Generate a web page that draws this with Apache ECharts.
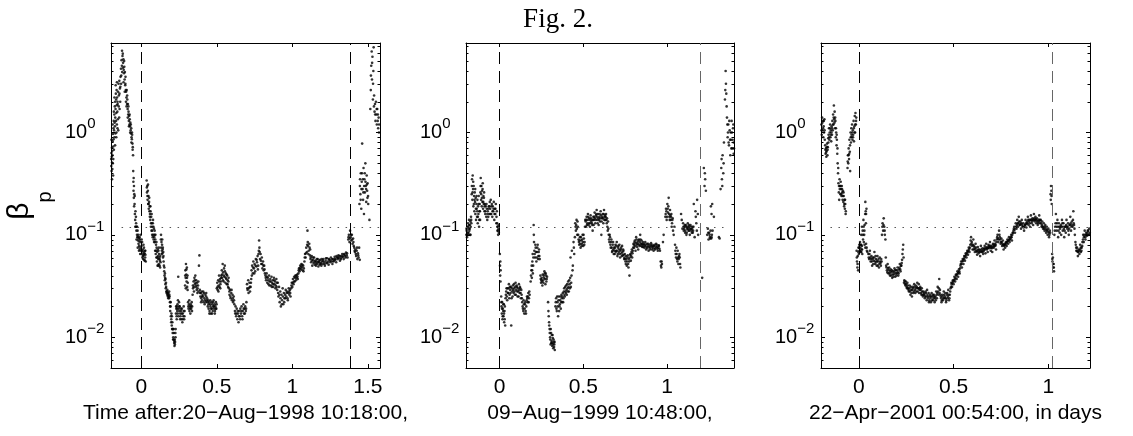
<!DOCTYPE html>
<html>
<head>
<meta charset="utf-8">
<script src="https://cdn.jsdelivr.net/npm/echarts@6/dist/echarts.min.js"></script>
<style>
html,body{margin:0;padding:0;background:#fff}
#main{width:1133px;height:436px}
</style>
</head>
<body>
<div id="main"></div>
<script>
// tick values
var xTicks = [0, 0.5, 1, 1.5];
var minorYTicks = [0.005, 0.006, 0.007, 0.008, 0.009,
  0.02, 0.03, 0.04, 0.05, 0.06, 0.07, 0.08, 0.09,
  0.2, 0.3, 0.4, 0.5, 0.6, 0.7, 0.8, 0.9,
  2, 3, 4, 5, 6, 7];
var yMin = 0.005, yMax = 7.5;
var xMin = [-0.2, -0.2, -0.2];
var xMax = [1.58, 1.4, 1.22];
// event boundaries (days) and beta threshold
var eventStart = [0, 0, 0];
var eventEnd = [1.38, 1.2, 1.02];
var threshold = 0.12;
var thresholdFrom = [-0.13, -0.2, -0.15];
var thresholdTo = [1.58, 1.34, 1.22];
var dateLabels = ['Time after:20\u2212Aug\u22121998 10:18:00,', '09\u2212Aug\u22121999 10:48:00,', '22\u2212Apr\u22122001 00:54:00, in days'];

// beta_p, 20-Aug-1998
var beta1998 = [
[-0.199,0.55],[-0.198,0.47],[-0.197,0.63],[-0.196,0.42],[-0.195,0.58],[-0.194,0.71],[-0.193,0.51],[-0.192,0.66],[-0.191,0.44],[-0.19,0.6],[-0.189,0.82],[-0.188,0.5],[-0.187,0.97],[-0.186,0.38],[-0.185,0.73],[-0.184,1.1],[-0.183,0.86],[-0.182,1.3],[-0.181,0.68],[-0.18,1.05],
[-0.178,1.5],[-0.177,0.9],[-0.176,1.25],[-0.175,1.8],[-0.174,1.15],[-0.173,2.0],[-0.172,1.4],[-0.171,0.98],[-0.17,1.7],[-0.168,2.4],[-0.167,1.3],[-0.166,2.1],[-0.165,1.55],[-0.164,1.0],[-0.163,2.6],[-0.162,1.85],[-0.161,1.2],[-0.16,2.2],[-0.158,1.6],[-0.157,1.1],[-0.156,1.9],[-0.155,1.35],[-0.153,2.5],[-0.152,1.05],
[-0.15,3.0],[-0.148,2.3],[-0.146,1.4],[-0.145,3.2],[-0.143,1.7],[-0.141,2.7],[-0.139,2.0],[-0.137,3.5],
[-0.134,4.2],[-0.132,3.6],[-0.13,5.1],[-0.128,4.5],[-0.126,3.9],[-0.124,5.6],[-0.122,5.9],[-0.12,4.8],[-0.118,5.2],[-0.116,4.1],
[-0.114,3.8],[-0.112,4.4],[-0.11,3.3],[-0.108,3.9],[-0.106,2.9],[-0.104,3.5],[-0.102,2.6],
[-0.1,2.5],[-0.098,2.2],[-0.096,2.6],[-0.094,1.9],[-0.092,2.1],[-0.09,1.7],[-0.088,1.9],[-0.086,1.5],
[-0.084,1.6],[-0.082,1.3],[-0.08,1.45],[-0.078,1.2],[-0.076,1.35],[-0.074,1.15],[-0.072,1.25],
[-0.07,1.05],[-0.068,0.98],[-0.066,1.1],[-0.064,0.9],[-0.062,0.86],[-0.06,0.95],[-0.058,0.78],[-0.056,0.72],
[-0.054,0.6],[-0.053,0.42],[-0.052,0.33],[-0.051,0.27],[-0.05,0.36],[-0.049,0.23],[-0.048,0.3],[-0.046,0.25],
[-0.044,0.2],[-0.042,0.16],[-0.04,0.14],[-0.038,0.17],[-0.036,0.12],[-0.034,0.13],[-0.032,0.11],[-0.03,0.12],
[-0.028,0.1],[-0.026,0.095],[-0.024,0.11],[-0.022,0.088],[-0.02,0.095],[-0.018,0.082],[-0.016,0.092],[-0.014,0.078],[-0.012,0.086],[-0.01,0.072],[-0.008,0.09],[-0.006,0.075],[-0.004,0.085],[-0.002,0.07],
[0.002,0.078],[0.004,0.065],[0.006,0.085],[0.008,0.06],[0.01,0.072],[0.012,0.058],[0.014,0.068],[0.016,0.063],[0.018,0.075],[0.02,0.057],[0.022,0.066],[0.024,0.07],[0.026,0.06],[0.028,0.064],[0.03,0.055],
[0.036,0.34],[0.038,0.26],[0.04,0.3],[0.042,0.22],[0.044,0.27],[0.046,0.2],[0.048,0.24],[0.05,0.18],[0.052,0.21],[0.054,0.17],[0.056,0.19],[0.058,0.16],
[0.06,0.14],[0.062,0.17],[0.064,0.12],[0.066,0.15],[0.068,0.11],[0.07,0.13],[0.072,0.1],[0.074,0.12],[0.076,0.095],[0.078,0.14],[0.08,0.1],[0.082,0.09],[0.084,0.115],[0.086,0.095],[0.088,0.1],
[0.09,0.085],[0.092,0.07],[0.094,0.1],[0.096,0.065],[0.098,0.08],[0.1,0.06],[0.102,0.075],[0.104,0.055],[0.106,0.068],[0.108,0.05],[0.11,0.062],[0.112,0.058],[0.114,0.07],[0.116,0.052],[0.118,0.065],[0.12,0.06],[0.122,0.05],[0.124,0.056],[0.126,0.062],[0.128,0.054],
[0.13,0.09],[0.132,0.075],[0.134,0.085],[0.136,0.07],[0.138,0.08],[0.14,0.066],[0.142,0.072],[0.144,0.06],[0.146,0.068],[0.148,0.055],
[0.15,0.05],[0.152,0.044],[0.154,0.04],[0.156,0.036],[0.158,0.038],[0.16,0.033],[0.162,0.03],[0.164,0.034],[0.166,0.028],[0.168,0.027],
[0.17,0.028],[0.172,0.026],[0.174,0.027],[0.176,0.025],[0.178,0.026],[0.18,0.027],[0.182,0.025],[0.184,0.024],[0.186,0.026],[0.188,0.025],
[0.19,0.022],[0.192,0.018],[0.194,0.02],[0.196,0.016],[0.198,0.014],[0.2,0.017],[0.202,0.013],[0.204,0.012],[0.206,0.014],[0.208,0.011],
[0.21,0.012],[0.212,0.01],[0.214,0.0095],[0.216,0.011],[0.218,0.0088],[0.22,0.0082],[0.222,0.0095],[0.224,0.009],[0.226,0.011],[0.228,0.012],
[0.23,0.017],[0.232,0.019],[0.234,0.016],[0.236,0.02],[0.238,0.018],[0.24,0.021],[0.242,0.017],[0.245,0.039],[0.248,0.019],[0.25,0.022],[0.252,0.018],[0.255,0.02],[0.258,0.017],
[0.26,0.016],[0.263,0.018],[0.266,0.015],[0.269,0.019],[0.272,0.014],[0.275,0.017],[0.278,0.016],[0.281,0.02],[0.284,0.015],[0.287,0.018],
[0.29,0.032],[0.292,0.045],[0.294,0.038],[0.296,0.052],[0.298,0.041],[0.3,0.035],[0.302,0.048],[0.304,0.031],[0.306,0.04],[0.308,0.034],
[0.31,0.022],[0.313,0.019],[0.316,0.021],[0.319,0.018],[0.322,0.02],[0.325,0.017],[0.328,0.021],[0.331,0.019],[0.334,0.022],[0.337,0.02],
[0.34,0.026],[0.343,0.03],[0.346,0.035],[0.349,0.028],[0.352,0.038],[0.355,0.033],[0.358,0.04],[0.361,0.031],[0.364,0.036],[0.367,0.029],[0.37,0.034],[0.373,0.03],[0.376,0.032],[0.379,0.028],
[0.382,0.05],[0.385,0.063],
[0.388,0.029],[0.391,0.025],[0.394,0.027],[0.397,0.024],[0.4,0.028],[0.403,0.023],[0.406,0.026],[0.409,0.025],[0.412,0.022],[0.415,0.027],[0.418,0.024],[0.421,0.023],[0.424,0.026],[0.427,0.022],[0.43,0.025],[0.433,0.023],[0.436,0.024],
[0.44,0.02],[0.443,0.023],[0.446,0.019],[0.449,0.022],[0.452,0.018],[0.455,0.021],[0.458,0.02],[0.461,0.017],[0.464,0.022],[0.467,0.019],[0.47,0.021],[0.473,0.018],[0.476,0.02],[0.479,0.023],[0.482,0.019],[0.485,0.021],[0.488,0.018],[0.491,0.02],[0.494,0.022],[0.497,0.019],
[0.5,0.03],[0.503,0.034],[0.506,0.029],[0.509,0.036],[0.512,0.032],[0.515,0.04],[0.518,0.031],[0.521,0.037],[0.524,0.033],[0.527,0.035],
[0.53,0.04],[0.533,0.045],[0.536,0.038],[0.539,0.052],[0.542,0.043],[0.545,0.035],[0.548,0.047],[0.551,0.039],[0.554,0.044],[0.557,0.034],[0.56,0.042],[0.563,0.037],[0.566,0.033],[0.569,0.04],[0.572,0.036],[0.575,0.031],[0.578,0.038],
[0.58,0.03],[0.584,0.026],[0.588,0.029],[0.592,0.024],[0.596,0.027],[0.6,0.023],[0.604,0.026],[0.608,0.022],[0.612,0.025],[0.616,0.021],
[0.62,0.018],[0.624,0.02],[0.628,0.016],[0.632,0.019],[0.636,0.015],[0.64,0.017],[0.644,0.014],[0.648,0.018],[0.652,0.016],[0.656,0.019],[0.66,0.017],[0.664,0.02],[0.668,0.016],[0.672,0.018],[0.676,0.021],[0.68,0.017],[0.684,0.019],[0.688,0.02],[0.692,0.018],[0.696,0.022],
[0.7,0.033],[0.704,0.029],[0.708,0.036],[0.712,0.03],[0.716,0.034],[0.72,0.028],[0.724,0.031],[0.728,0.037],
[0.73,0.045],[0.734,0.05],[0.738,0.042],[0.742,0.055],[0.746,0.047],[0.75,0.052],[0.754,0.044],[0.758,0.058],[0.762,0.049],[0.766,0.054],[0.77,0.062],[0.774,0.05],[0.778,0.07],[0.78,0.088],[0.782,0.075],[0.786,0.058],[0.79,0.065],[0.794,0.052],[0.798,0.06],[0.802,0.047],[0.806,0.055],[0.81,0.045],[0.814,0.05],[0.818,0.042],
[0.822,0.04],[0.826,0.036],[0.83,0.042],[0.834,0.034],[0.838,0.038],[0.842,0.033],[0.846,0.04],[0.85,0.035],[0.854,0.037],[0.858,0.032],[0.862,0.039],[0.866,0.034],[0.87,0.036],[0.874,0.031],[0.878,0.038],[0.882,0.033],[0.886,0.035],[0.89,0.032],[0.894,0.037],[0.898,0.034],
[0.9,0.029],[0.904,0.034],[0.908,0.025],[0.912,0.031],[0.916,0.022],[0.92,0.028],[0.924,0.02],[0.928,0.026],[0.932,0.023],[0.936,0.03],[0.94,0.021],[0.944,0.027],[0.948,0.024],
[0.952,0.026],[0.956,0.029],[0.96,0.025],[0.964,0.028],[0.968,0.024],[0.972,0.027],[0.976,0.03],[0.98,0.026],[0.984,0.029],[0.988,0.025],
[0.992,0.03],[0.996,0.034],[1.0,0.031],[1.004,0.037],[1.008,0.033],[1.012,0.039],[1.016,0.035],[1.02,0.04],[1.024,0.036],[1.028,0.038],[1.032,0.041],[1.036,0.037],
[1.04,0.042],[1.044,0.047],[1.048,0.044],[1.052,0.05],[1.056,0.046],[1.06,0.052],[1.064,0.048],[1.068,0.045],[1.072,0.05],[1.076,0.047],
[1.08,0.055],[1.084,0.065],[1.088,0.06],[1.092,0.075],[1.096,0.068],[1.1,0.11],[1.102,0.085],[1.104,0.078],[1.108,0.07],[1.112,0.082],[1.116,0.063],[1.118,0.072],
[1.12,0.058],[1.124,0.054],[1.128,0.062],[1.132,0.05],[1.136,0.057],[1.14,0.053],[1.144,0.06],[1.148,0.051],[1.152,0.056],[1.156,0.05],[1.16,0.055],[1.164,0.052],[1.168,0.058],[1.172,0.049],[1.176,0.054],[1.18,0.051],[1.184,0.057],[1.188,0.053],[1.192,0.05],[1.196,0.055],
[1.2,0.052],[1.205,0.058],[1.21,0.054],[1.215,0.05],[1.22,0.056],[1.225,0.053],[1.23,0.059],[1.235,0.055],[1.24,0.051],[1.245,0.057],[1.25,0.054],[1.255,0.06],[1.26,0.055],[1.265,0.052],[1.27,0.058],[1.275,0.056],[1.28,0.061],[1.285,0.057],[1.29,0.054],[1.295,0.06],[1.3,0.058],[1.305,0.063],[1.31,0.059],[1.315,0.056],[1.32,0.062],[1.325,0.06],[1.33,0.065],[1.335,0.061],[1.34,0.058],[1.345,0.064],[1.35,0.062],[1.355,0.067],[1.36,0.063],[1.365,0.06],
[1.37,0.09],[1.374,0.1],[1.378,0.085],[1.382,0.11],[1.386,0.095],[1.39,0.088],[1.394,0.1],[1.398,0.082],[1.402,0.092],[1.406,0.078],
[1.41,0.075],[1.414,0.068],[1.418,0.072],[1.422,0.062],[1.426,0.07],[1.43,0.058],[1.434,0.066],[1.438,0.06],[1.442,0.075],[1.446,0.057],
[1.444,0.2],[1.447,0.3],[1.45,0.25],[1.453,0.4],[1.456,0.18],[1.459,0.33],[1.462,0.78],[1.465,0.28],[1.468,0.22],[1.471,0.45],[1.474,0.16],[1.477,0.35],[1.48,0.26],[1.483,0.5],[1.486,0.3],[1.489,0.21],[1.492,0.38],[1.495,0.27],[1.498,0.32],[1.501,0.24],
[1.51,0.14],
[1.516,1.7],[1.519,2.6],[1.522,4.5],[1.525,6.2],[1.527,3.3],[1.53,5.5],[1.533,2.1],[1.536,4.0],[1.538,6.8],
[1.541,2.3],[1.544,1.6],[1.547,1.9],[1.55,1.3],[1.553,2.0],[1.556,1.5],[1.559,1.2],[1.562,1.7],[1.565,1.3],[1.568,1.1],[1.571,1.4],[1.574,1.2]
];
var beta1998More = [
[-0.197,0.85],[-0.193,0.35],[-0.189,1.2],[-0.185,0.55],[-0.181,1.6],[-0.177,2.2],[-0.173,0.75],[-0.169,2.9],[-0.165,0.9],[-0.161,3.1],[-0.157,2.0],[-0.149,1.8],[-0.144,2.4],[-0.138,2.8],[-0.133,3.0],[-0.127,6.3],[-0.121,4.3],[-0.117,3.1],[-0.113,5.0],[-0.109,2.5],[-0.105,3.0],[-0.101,2.0],[-0.097,1.8],[-0.093,2.3],[-0.089,1.4],[-0.085,1.8],[-0.081,1.15],[-0.077,1.5],[-0.073,1.0],[-0.069,1.2],[-0.065,0.8],[-0.061,1.0],[-0.057,0.68],[-0.047,0.19],[-0.043,0.24],[-0.039,0.12],[-0.035,0.15],[-0.031,0.09],[-0.027,0.12],[-0.023,0.075],[-0.019,0.1],[-0.015,0.07],[-0.011,0.095],[-0.007,0.065],[-0.003,0.1],
[0.003,0.09],[0.007,0.07],[0.011,0.062],[0.015,0.08],[0.019,0.065],[0.023,0.056],[0.027,0.07],[0.037,0.29],[0.041,0.24],[0.045,0.31],[0.049,0.2],[0.053,0.23],[0.057,0.15],[0.061,0.19],[0.065,0.13],[0.069,0.16],[0.073,0.11],[0.077,0.13],[0.081,0.12],[0.085,0.085],[0.089,0.11],[0.093,0.09],[0.097,0.07],[0.101,0.085],[0.105,0.06],[0.109,0.072],[0.113,0.05],[0.117,0.075],[0.121,0.058],[0.125,0.048],[0.131,0.1],[0.135,0.065],[0.139,0.09],[0.143,0.075],[0.147,0.062],[0.153,0.048],[0.157,0.042],[0.161,0.037],[0.165,0.031],[0.173,0.029],[0.179,0.024],[0.185,0.028],[0.191,0.02],[0.195,0.022],[0.199,0.015],[0.203,0.016],[0.207,0.012],[0.211,0.0095],[0.215,0.012],[0.219,0.0092],[0.223,0.0085],[0.227,0.01],[0.231,0.02],[0.235,0.015],[0.239,0.019],[0.243,0.023],[0.247,0.016],[0.251,0.02],[0.257,0.015],[0.262,0.019],[0.268,0.017],[0.274,0.015],[0.28,0.018],[0.286,0.016],[0.291,0.04],[0.295,0.03],[0.299,0.046],[0.303,0.038],[0.307,0.029],[0.312,0.02],[0.318,0.023],[0.324,0.019],[0.33,0.02],[0.336,0.018],[0.342,0.032],[0.348,0.031],[0.354,0.036],[0.36,0.034],[0.366,0.032],[0.372,0.027],[0.378,0.035],[0.39,0.027],[0.396,0.022],[0.402,0.025],[0.41,0.028],[0.42,0.021],[0.43,0.027],[0.438,0.022],[0.445,0.021],[0.451,0.017],[0.457,0.023],[0.463,0.019],[0.469,0.017],[0.475,0.022],[0.481,0.02],[0.487,0.017],[0.493,0.019],[0.499,0.021],[0.505,0.031],[0.511,0.028],[0.517,0.035],[0.523,0.03],[0.529,0.038],[0.535,0.041],[0.541,0.036],[0.547,0.04],[0.553,0.05],[0.559,0.038],[0.565,0.041],[0.571,0.033],[0.577,0.035],[0.583,0.028],[0.59,0.025],[0.598,0.029],[0.606,0.024],[0.614,0.023],[0.622,0.017],[0.63,0.017],[0.638,0.018],[0.646,0.016],[0.654,0.015],[0.662,0.018],[0.67,0.015],[0.678,0.019],[0.686,0.017],[0.694,0.019],[0.702,0.03],[0.71,0.027],[0.718,0.031],[0.726,0.034],[0.732,0.04],[0.74,0.048],[0.748,0.042],[0.756,0.05],[0.764,0.057],[0.772,0.046],[0.776,0.065],[0.784,0.068],[0.792,0.056],[0.8,0.052],[0.808,0.05],[0.816,0.046],[0.824,0.038],[0.832,0.039],[0.84,0.036],[0.848,0.032],[0.856,0.035],[0.864,0.031],[0.872,0.033],[0.88,0.036],[0.888,0.03],[0.896,0.031],[0.906,0.027],[0.914,0.026],[0.922,0.024],[0.93,0.021],[0.938,0.025],[0.946,0.022],[0.954,0.024],[0.962,0.027],[0.97,0.023],[0.978,0.028],[0.986,0.027],[0.994,0.032],[1.002,0.034],[1.01,0.035],[1.018,0.038],[1.026,0.04],[1.034,0.039],[1.042,0.045],[1.05,0.047],[1.058,0.049],[1.066,0.051],[1.074,0.044],[1.082,0.06],[1.09,0.066],[1.098,0.08],[1.106,0.065],[1.114,0.075],[1.122,0.06],[1.13,0.056],[1.138,0.06],[1.146,0.055],[1.154,0.053],[1.162,0.058],[1.17,0.054],[1.178,0.056],[1.186,0.052],[1.194,0.058],[1.202,0.056],[1.212,0.052],[1.222,0.059],[1.232,0.053],[1.242,0.058],[1.252,0.056],[1.262,0.058],[1.272,0.055],[1.282,0.058],[1.292,0.062],[1.302,0.06],[1.312,0.062],[1.322,0.058],[1.332,0.062],[1.342,0.065],[1.352,0.06],[1.362,0.066],[1.372,0.095],[1.38,0.092],[1.388,0.1],[1.396,0.09],[1.404,0.085],[1.412,0.07],[1.42,0.065],[1.428,0.075],[1.436,0.063],[1.448,0.35],[1.452,0.22],[1.457,0.28],[1.461,0.4],[1.466,0.35],[1.47,0.26],[1.475,0.3],[1.479,0.4],[1.484,0.33],[1.488,0.28],[1.493,0.31],[1.497,0.23],[1.502,0.2],[1.52,3.6],[1.528,4.8],[1.534,3.0],[1.54,1.8],[1.548,1.5],[1.558,1.7],[1.566,1.5],[1.573,1.0]
];

// beta_p, 09-Aug-1999
var beta1999 = [
[-0.198,0.1],[-0.196,0.11],[-0.194,0.095],[-0.192,0.12],[-0.19,0.105],[-0.188,0.13],[-0.186,0.1],[-0.184,0.115],[-0.182,0.14],[-0.18,0.11],[-0.178,0.125],[-0.176,0.1],[-0.174,0.135],[-0.172,0.12],[-0.17,0.15],[-0.168,0.13],
[-0.166,0.25],[-0.164,0.35],[-0.162,0.22],[-0.16,0.38],[-0.158,0.28],[-0.156,0.19],[-0.154,0.3],[-0.152,0.24],[-0.15,0.17],[-0.148,0.26],[-0.146,0.21],[-0.144,0.16],[-0.142,0.23],[-0.14,0.14],[-0.138,0.2],[-0.136,0.18],
[-0.134,0.15],[-0.132,0.22],[-0.13,0.13],[-0.128,0.19],[-0.126,0.16],[-0.124,0.24],[-0.122,0.12],[-0.12,0.17],[-0.118,0.2],[-0.116,0.14],
[-0.114,0.26],[-0.112,0.36],[-0.11,0.22],[-0.108,0.3],[-0.106,0.19],[-0.104,0.27],[-0.102,0.21],[-0.1,0.32],[-0.098,0.18],[-0.096,0.24],[-0.094,0.2],[-0.092,0.26],[-0.09,0.17],
[-0.088,0.2],[-0.085,0.16],[-0.082,0.19],[-0.079,0.15],[-0.076,0.18],[-0.073,0.14],[-0.07,0.17],[-0.067,0.15],[-0.064,0.19],[-0.061,0.16],[-0.058,0.21],
[-0.055,0.18],[-0.052,0.22],[-0.049,0.16],[-0.046,0.2],[-0.043,0.15],[-0.04,0.19],[-0.037,0.17],[-0.034,0.21],[-0.031,0.14],[-0.028,0.18],[-0.025,0.16],[-0.022,0.2],[-0.019,0.13],[-0.016,0.17],
[-0.014,0.13],[-0.012,0.11],[-0.01,0.12],[-0.008,0.1],[-0.006,0.115],[-0.004,0.105],
[0.002,0.065],[0.003,0.05],[0.004,0.04],[0.005,0.055],[0.006,0.035],[0.007,0.045],
[0.01,0.025],[0.012,0.02],[0.014,0.017],[0.016,0.022],[0.018,0.015],[0.02,0.019],[0.022,0.018],[0.024,0.016],[0.026,0.021],[0.028,0.014],[0.03,0.018],[0.032,0.02],[0.034,0.013],
[0.036,0.024],[0.04,0.028],[0.044,0.025],[0.048,0.03],[0.052,0.027],[0.056,0.033],[0.06,0.026],[0.064,0.029],[0.068,0.031],[0.07,0.013],[0.072,0.024],[0.076,0.028],[0.08,0.032],[0.084,0.027],
[0.088,0.03],[0.092,0.026],[0.096,0.034],[0.1,0.029],[0.104,0.031],[0.108,0.025],[0.112,0.028],[0.116,0.033],[0.12,0.027],[0.124,0.03],[0.128,0.024],[0.132,0.026],
[0.136,0.022],[0.14,0.019],[0.144,0.023],[0.148,0.017],[0.152,0.021],[0.156,0.018],[0.16,0.02],[0.164,0.025],[0.168,0.022],[0.172,0.027],[0.176,0.024],[0.18,0.026],
[0.186,0.035],[0.19,0.045],[0.193,0.038],[0.196,0.055],[0.199,0.042],[0.202,0.06],[0.204,0.125],[0.206,0.085],
[0.208,0.07],[0.212,0.06],[0.216,0.075],[0.22,0.055],[0.224,0.068],[0.228,0.08],[0.232,0.062],[0.236,0.072],[0.24,0.058],
[0.244,0.04],[0.248,0.034],[0.252,0.038],[0.256,0.032],[0.26,0.036],[0.264,0.04],[0.268,0.044],[0.272,0.037],[0.276,0.042],[0.28,0.035],[0.284,0.039],
[0.29,0.022],[0.294,0.016],[0.297,0.013],[0.3,0.011],[0.303,0.0095],[0.306,0.012],[0.309,0.0088],[0.312,0.0105],[0.315,0.0082],[0.318,0.0098],[0.321,0.0078],[0.324,0.009],[0.327,0.0085],[0.33,0.0075],
[0.334,0.02],[0.338,0.024],[0.342,0.018],[0.346,0.022],[0.35,0.016],[0.354,0.025],[0.358,0.02],[0.362,0.023],[0.366,0.019],[0.37,0.026],
[0.374,0.022],[0.378,0.027],[0.382,0.024],[0.386,0.03],[0.39,0.025],[0.394,0.028],[0.398,0.032],[0.402,0.026],[0.406,0.03],[0.41,0.035],[0.414,0.028],[0.418,0.033],[0.422,0.038],[0.426,0.031],[0.43,0.04],
[0.424,0.06],[0.432,0.07],[0.438,0.05],[0.442,0.085],[0.446,0.065],
[0.452,0.13],[0.456,0.11],[0.46,0.14],[0.464,0.1],[0.468,0.12],
[0.472,0.09],[0.476,0.08],[0.48,0.095],[0.484,0.075],[0.488,0.088],[0.492,0.082],[0.496,0.1],[0.5,0.078],[0.504,0.092],[0.508,0.085],
[0.512,0.14],[0.516,0.12],[0.52,0.15],[0.524,0.13],[0.528,0.16],[0.532,0.125],[0.536,0.145],[0.54,0.12],[0.544,0.155],[0.548,0.135],[0.552,0.13],[0.556,0.11],[0.56,0.15],
[0.564,0.14],[0.568,0.165],[0.572,0.13],[0.576,0.155],[0.58,0.175],[0.584,0.14],[0.588,0.16],[0.592,0.125],[0.596,0.15],[0.6,0.135],[0.604,0.17],[0.608,0.1],[0.612,0.145],[0.616,0.16],[0.62,0.13],[0.624,0.175],[0.628,0.15],[0.632,0.14],[0.636,0.16],[0.64,0.13],[0.644,0.12],[0.648,0.135],
[0.652,0.1],[0.656,0.085],[0.66,0.095],[0.664,0.075],[0.668,0.09],[0.672,0.068],[0.676,0.08],[0.68,0.072],
[0.684,0.075],[0.688,0.065],[0.692,0.08],[0.696,0.07],[0.7,0.085],[0.704,0.062],[0.708,0.075],[0.712,0.068],[0.716,0.08],[0.72,0.06],[0.724,0.072],[0.728,0.066],[0.732,0.078],[0.736,0.063],[0.74,0.07],[0.744,0.058],[0.748,0.065],
[0.752,0.055],[0.756,0.062],[0.76,0.05],[0.764,0.06],[0.768,0.052],[0.772,0.058],[0.776,0.04],[0.78,0.064],[0.784,0.056],[0.788,0.068],[0.792,0.06],[0.796,0.07],
[0.8,0.082],[0.804,0.075],[0.808,0.088],[0.812,0.07],[0.816,0.095],[0.82,0.08],[0.824,0.085],[0.828,0.072],[0.832,0.09],[0.836,0.078],[0.84,0.1],[0.844,0.082],[0.848,0.088],[0.852,0.076],[0.856,0.085],
[0.86,0.08],[0.865,0.075],[0.87,0.085],[0.875,0.072],[0.88,0.082],[0.885,0.078],[0.89,0.07],[0.895,0.08],[0.9,0.075],[0.905,0.083],[0.91,0.072],[0.915,0.078],[0.92,0.07],[0.925,0.08],[0.93,0.074],[0.935,0.082],[0.94,0.076],[0.945,0.07],[0.95,0.079],[0.955,0.073],
[0.962,0.055],[0.966,0.048],[0.97,0.052],[0.976,0.085],[0.98,0.1],
[0.99,0.15],[0.994,0.18],[0.998,0.14],[1.002,0.2],[1.006,0.165],[1.01,0.23],[1.014,0.15],[1.018,0.175],[1.022,0.14],[1.026,0.16],[1.03,0.13],[1.034,0.145],
[1.036,0.11],[1.04,0.1],[1.044,0.12],
[1.048,0.08],[1.052,0.065],[1.056,0.075],[1.06,0.058],[1.064,0.07],[1.068,0.052],[1.072,0.062],[1.076,0.06],[1.08,0.048],
[1.084,0.16],[1.088,0.14],[1.092,0.115],
[1.096,0.13],[1.1,0.11],[1.104,0.12],[1.108,0.105],[1.112,0.125],[1.116,0.1],[1.12,0.115],[1.124,0.13],[1.128,0.11],[1.132,0.12],[1.136,0.1],[1.14,0.125],[1.144,0.115],[1.148,0.105],[1.152,0.12],[1.156,0.11],
[1.16,0.2],[1.165,0.095],[1.17,0.17],[1.175,0.13],[1.18,0.22],[1.186,0.1],
[1.21,0.038],[1.22,0.45],[1.224,0.3],[1.228,0.35],[1.232,0.27],
[1.24,0.1],[1.244,0.115],[1.248,0.09],[1.252,0.105],[1.256,0.095],[1.26,0.11],[1.264,0.092],[1.268,0.1],[1.262,0.19],[1.266,0.16],[1.27,0.2],[1.28,0.15],
[1.31,0.095],[1.314,0.092],
[1.32,0.28],[1.324,0.45],[1.328,0.35],[1.332,0.6],[1.336,0.4],[1.34,0.8],
[1.346,2.1],[1.35,4.0],[1.352,3.0],[1.354,2.4],
[1.358,1.4],[1.362,0.9],[1.366,1.2],[1.37,0.75],[1.374,1.05],[1.378,0.6],[1.382,0.85],[1.386,1.3],[1.39,0.7],[1.394,1.1],[1.398,0.8],[1.402,0.95],[1.398,0.62]
];
var beta1999More = [
[-0.197,0.115],[-0.193,0.1],[-0.189,0.12],[-0.185,0.105],[-0.181,0.125],[-0.177,0.115],[-0.173,0.1],[-0.169,0.14],[-0.165,0.3],[-0.161,0.26],[-0.157,0.33],[-0.153,0.2],[-0.149,0.22],[-0.145,0.28],[-0.141,0.18],[-0.137,0.24],[-0.133,0.17],[-0.129,0.15],[-0.125,0.2],[-0.121,0.14],[-0.117,0.17],[-0.113,0.3],[-0.109,0.25],[-0.105,0.23],[-0.101,0.28],[-0.097,0.21],[-0.093,0.23],[-0.089,0.19],[-0.084,0.17],[-0.078,0.2],[-0.072,0.16],[-0.066,0.18],[-0.06,0.19],[-0.054,0.16],[-0.048,0.19],[-0.042,0.17],[-0.036,0.18],[-0.03,0.16],[-0.024,0.18],[-0.018,0.15],[-0.013,0.12],[-0.009,0.11],[-0.005,0.125],
[0.011,0.022],[0.015,0.019],[0.019,0.016],[0.023,0.021],[0.027,0.017],[0.031,0.015],[0.038,0.026],[0.042,0.03],[0.046,0.023],[0.05,0.027],[0.054,0.03],[0.058,0.024],[0.062,0.031],[0.066,0.027],[0.074,0.03],[0.078,0.025],[0.082,0.029],[0.086,0.033],[0.09,0.028],[0.094,0.031],[0.098,0.026],[0.102,0.032],[0.106,0.028],[0.11,0.03],[0.114,0.025],[0.118,0.029],[0.122,0.031],[0.126,0.027],[0.13,0.029],[0.134,0.024],[0.138,0.02],[0.142,0.018],[0.146,0.021],[0.15,0.019],[0.154,0.022],[0.158,0.017],[0.162,0.023],[0.166,0.024],[0.17,0.025],[0.174,0.022],[0.178,0.028],
[0.188,0.04],[0.192,0.05],[0.195,0.045],[0.198,0.065],[0.201,0.05],[0.205,0.1],[0.21,0.065],[0.214,0.08],[0.218,0.068],[0.222,0.06],[0.226,0.075],[0.23,0.058],[0.234,0.068],[0.238,0.062],[0.246,0.037],[0.25,0.036],[0.254,0.035],[0.258,0.041],[0.262,0.034],[0.266,0.038],[0.27,0.042],[0.274,0.033],[0.278,0.04],[0.282,0.037],
[0.292,0.018],[0.296,0.014],[0.299,0.012],[0.302,0.01],[0.305,0.0085],[0.308,0.011],[0.311,0.0092],[0.314,0.0088],[0.317,0.0105],[0.32,0.0085],[0.323,0.0095],[0.326,0.008],[0.329,0.009],
[0.336,0.022],[0.34,0.019],[0.344,0.025],[0.348,0.02],[0.352,0.023],[0.356,0.018],[0.36,0.021],[0.364,0.025],[0.368,0.022],[0.372,0.024],[0.376,0.025],[0.38,0.022],[0.384,0.028],[0.388,0.026],[0.392,0.031],[0.396,0.027],[0.4,0.029],[0.404,0.033],[0.408,0.028],[0.412,0.031],[0.416,0.036],[0.42,0.03],[0.428,0.034],[0.436,0.045],[0.444,0.075],[0.45,0.095],[0.454,0.12],[0.458,0.125],[0.462,0.115],[0.466,0.135],[0.47,0.1],[0.474,0.085],[0.478,0.088],[0.482,0.082],[0.486,0.095],[0.49,0.078],[0.494,0.09],[0.498,0.085],[0.502,0.1],[0.506,0.08],[0.51,0.12],[0.514,0.135],[0.518,0.14],[0.522,0.125],[0.526,0.14],[0.53,0.15],[0.534,0.13],[0.538,0.14],[0.542,0.13],[0.546,0.145],[0.55,0.14],[0.554,0.125],[0.558,0.14],[0.562,0.125],[0.566,0.15],[0.57,0.145],[0.574,0.14],[0.578,0.16],[0.582,0.15],[0.586,0.13],[0.59,0.145],[0.594,0.14],[0.598,0.16],[0.602,0.145],[0.606,0.155],[0.61,0.135],[0.614,0.15],[0.618,0.145],[0.622,0.16],[0.626,0.14],[0.63,0.155],[0.634,0.15],[0.638,0.14],[0.642,0.145],[0.646,0.11],[0.65,0.115],[0.654,0.09],[0.658,0.1],[0.662,0.08],[0.666,0.085],[0.67,0.075],[0.674,0.07],[0.678,0.085],[0.682,0.065],[0.686,0.07],[0.69,0.075],[0.694,0.068],[0.698,0.078],[0.702,0.07],[0.706,0.065],[0.71,0.078],[0.714,0.072],[0.718,0.065],[0.722,0.07],[0.726,0.075],[0.73,0.062],[0.734,0.068],[0.738,0.072],[0.742,0.064],[0.746,0.06],[0.75,0.058],[0.754,0.052],[0.758,0.058],[0.762,0.055],[0.766,0.063],[0.77,0.048],[0.774,0.055],[0.778,0.06],[0.782,0.065],[0.786,0.062],[0.79,0.072],[0.794,0.066],[0.798,0.075],[0.802,0.08],[0.806,0.085],[0.81,0.078],[0.814,0.083],[0.818,0.09],[0.822,0.076],[0.826,0.082],[0.83,0.088],[0.834,0.08],[0.838,0.085],[0.842,0.09],[0.846,0.078],[0.85,0.082],[0.854,0.08],[0.858,0.076],[0.862,0.082],[0.868,0.078],[0.872,0.08],[0.878,0.076],[0.882,0.074],[0.888,0.082],[0.892,0.076],[0.898,0.072],[0.902,0.078],[0.908,0.08],[0.912,0.076],[0.918,0.074],[0.922,0.078],[0.928,0.072],[0.932,0.077],[0.938,0.08],[0.942,0.073],[0.948,0.075],[0.952,0.078],[0.958,0.07],[0.964,0.05],[0.968,0.055],[0.992,0.16],[0.996,0.17],[1.0,0.15],[1.004,0.18],[1.008,0.19],[1.012,0.16],[1.016,0.14],[1.02,0.155],[1.024,0.15],[1.028,0.12],[1.032,0.14],[1.05,0.07],[1.054,0.06],[1.058,0.065],[1.062,0.055],[1.066,0.06],[1.07,0.058],[1.074,0.065],[1.078,0.052],[1.098,0.12],[1.102,0.115],[1.106,0.125],[1.11,0.11],[1.114,0.12],[1.118,0.105],[1.122,0.12],[1.126,0.115],[1.13,0.125],[1.134,0.11],[1.138,0.115],[1.142,0.12],[1.146,0.11],[1.15,0.115],[1.154,0.105],[1.158,0.12],[1.172,0.15],[1.178,0.11],[1.184,0.16],[1.226,0.4],[1.246,0.105],[1.254,0.1],[1.258,0.092],[1.266,0.095],[1.272,0.11],[1.326,0.55],[1.33,0.3],[1.338,0.5],[1.348,2.6],[1.356,1.8],[1.36,1.2],[1.364,1.0],[1.368,0.8],[1.372,1.3],[1.376,0.85],[1.38,1.0],[1.384,0.7],[1.388,1.0],[1.392,0.85],[1.396,1.2],[1.4,0.7],[1.403,0.6]
];

// beta_p, 22-Apr-2001
var beta2001 = [
[-0.198,1.2],[-0.196,0.95],[-0.194,1.4],[-0.192,1.05],[-0.19,1.3],[-0.188,0.9],[-0.186,1.15],[-0.184,1.0],[-0.182,1.35],[-0.18,0.85],[-0.178,0.75],[-0.176,0.62],[-0.174,0.7],[-0.172,0.58],[-0.17,0.66],[-0.168,0.78],[-0.166,0.6],[-0.164,0.72],[-0.162,0.88],
[-0.16,0.95],[-0.158,1.1],[-0.156,0.85],[-0.154,1.0],[-0.152,1.2],[-0.15,0.9],[-0.148,1.05],[-0.146,0.82],[-0.144,1.15],[-0.142,0.95],[-0.14,1.3],[-0.138,1.05],[-0.136,1.5],[-0.134,1.2],[-0.132,1.84],[-0.13,1.35],[-0.128,1.6],[-0.126,1.1],[-0.124,1.3],[-0.122,0.9],[-0.12,1.0],[-0.118,0.75],[-0.116,0.85],[-0.114,0.62],
[-0.112,0.5],[-0.11,0.4],[-0.108,0.32],[-0.106,0.26],[-0.104,0.22],[-0.102,0.35],[-0.1,0.3],[-0.098,0.25],[-0.096,0.33],[-0.094,0.28],[-0.092,0.24],[-0.09,0.3],[-0.088,0.26],[-0.086,0.22],[-0.084,0.27],[-0.082,0.21],[-0.08,0.24],[-0.078,0.19],[-0.076,0.22],[-0.074,0.18],[-0.072,0.2],[-0.07,0.16],
[-0.06,0.45],[-0.058,0.6],[-0.056,0.5],[-0.054,0.7],[-0.052,0.55],[-0.05,0.85],[-0.048,0.65],[-0.046,0.42],
[-0.044,1.0],[-0.042,0.8],[-0.04,1.1],[-0.038,0.9],[-0.036,1.2],[-0.034,0.85],[-0.032,1.05],[-0.03,0.95],[-0.028,1.3],[-0.026,0.82],[-0.024,1.15],[-0.022,1.45],[-0.02,1.0],[-0.018,1.55],[-0.016,1.2],[-0.014,1.4],
[-0.012,0.07],[-0.01,0.055],[-0.008,0.048],[-0.006,0.062],[-0.004,0.045],[-0.002,0.075],
[0.0,0.065],[0.002,0.08],[0.004,0.07],[0.006,0.085],[0.008,0.075],[0.01,0.068],[0.012,0.08],[0.014,0.072],[0.016,0.078],[0.018,0.065],
[0.012,0.1],[0.016,0.12],[0.02,0.11],[0.024,0.14],[0.028,0.1],[0.03,0.125],[0.034,0.21],[0.036,0.17],[0.038,0.16],[0.04,0.18],
[0.022,0.09],[0.026,0.085],[0.03,0.08],[0.034,0.075],[0.038,0.082],[0.042,0.07],
[0.05,0.065],[0.054,0.058],[0.058,0.07],[0.062,0.055],[0.066,0.062],[0.07,0.05],[0.074,0.06],[0.078,0.056],[0.082,0.068],[0.086,0.052],[0.09,0.058],[0.094,0.05],[0.098,0.062],[0.102,0.055],[0.106,0.048],[0.11,0.06],[0.114,0.053],[0.118,0.058],
[0.122,0.1],[0.125,0.13],[0.128,0.11],[0.131,0.145],[0.134,0.12],[0.137,0.1],[0.14,0.09],
[0.144,0.05],[0.148,0.045],[0.152,0.052],[0.156,0.042],[0.16,0.048],[0.164,0.04],[0.168,0.046],[0.172,0.043],[0.176,0.038],[0.18,0.044],[0.184,0.041],[0.188,0.047],[0.192,0.039],[0.196,0.045],[0.2,0.042],[0.204,0.048],[0.208,0.04],[0.212,0.046],[0.216,0.052],[0.22,0.044],[0.224,0.05],[0.228,0.057],[0.23,0.065],[0.232,0.072],[0.234,0.08],[0.236,0.06],
[0.24,0.036],[0.244,0.033],[0.248,0.035],[0.252,0.031],[0.256,0.034],[0.26,0.03],[0.264,0.028],[0.268,0.032],[0.272,0.026],[0.276,0.029],[0.28,0.025],[0.284,0.031],[0.288,0.027],[0.292,0.033],[0.296,0.029],[0.3,0.032],[0.304,0.028],[0.308,0.034],[0.312,0.03],[0.316,0.033],[0.32,0.029],[0.324,0.031],[0.328,0.027],[0.332,0.03],[0.336,0.026],[0.34,0.028],
[0.344,0.027],[0.348,0.024],[0.352,0.028],[0.356,0.025],[0.36,0.029],[0.364,0.024],[0.368,0.027],[0.372,0.023],[0.376,0.026],[0.38,0.022],[0.384,0.027],[0.388,0.025],[0.392,0.023],[0.396,0.026],[0.4,0.022],[0.404,0.025],[0.408,0.028],[0.412,0.024],[0.416,0.031],[0.42,0.026],[0.424,0.037],[0.428,0.029],
[0.432,0.025],[0.436,0.022],[0.44,0.026],[0.444,0.023],[0.448,0.028],[0.452,0.024],[0.456,0.027],[0.46,0.022],[0.464,0.026],[0.468,0.024],[0.472,0.029],[0.476,0.023],[0.48,0.026],[0.484,0.03],
[0.488,0.034],[0.492,0.031],[0.496,0.036],[0.5,0.033],[0.504,0.039],[0.508,0.035],[0.512,0.041],[0.516,0.037],[0.52,0.044],[0.524,0.039],[0.528,0.046],[0.532,0.042],
[0.536,0.05],[0.54,0.055],[0.544,0.048],[0.548,0.058],[0.552,0.052],[0.556,0.062],[0.56,0.056],[0.564,0.066],[0.568,0.06],[0.572,0.07],[0.576,0.064],[0.58,0.075],[0.584,0.068],
[0.588,0.08],[0.592,0.095],[0.596,0.085],[0.6,0.072],[0.604,0.09],[0.608,0.078],[0.612,0.068],[0.616,0.082],[0.62,0.07],[0.624,0.064],[0.628,0.076],[0.632,0.066],[0.636,0.072],[0.64,0.062],[0.644,0.078],[0.648,0.068],[0.652,0.074],[0.656,0.065],
[0.66,0.07],[0.664,0.078],[0.668,0.066],[0.672,0.082],[0.676,0.072],[0.68,0.068],[0.684,0.08],[0.688,0.074],[0.692,0.085],[0.696,0.07],[0.7,0.078],[0.704,0.068],[0.708,0.082],[0.712,0.075],[0.716,0.088],[0.72,0.078],[0.724,0.072],
[0.728,0.09],[0.732,0.1],[0.736,0.085],[0.74,0.11],[0.744,0.095],[0.748,0.082],[0.752,0.092],[0.756,0.078],[0.76,0.088],[0.764,0.072],[0.768,0.08],[0.772,0.075],[0.776,0.085],[0.78,0.078],[0.784,0.09],[0.788,0.082],[0.792,0.095],[0.796,0.085],[0.8,0.092],[0.804,0.1],[0.808,0.088],[0.812,0.105],
[0.816,0.11],[0.82,0.12],[0.824,0.105],[0.828,0.13],[0.832,0.115],[0.836,0.14],[0.84,0.12],[0.844,0.15],[0.848,0.125],[0.852,0.135],[0.856,0.115],[0.86,0.14],[0.864,0.12],[0.868,0.13],[0.872,0.11],[0.876,0.125],[0.88,0.14],[0.884,0.118],
[0.888,0.135],[0.892,0.15],[0.896,0.125],[0.9,0.14],[0.904,0.12],[0.908,0.155],[0.912,0.13],[0.916,0.145],[0.92,0.125],[0.924,0.16],[0.928,0.135],[0.932,0.15],[0.936,0.13],[0.94,0.145],[0.944,0.125],[0.948,0.14],[0.952,0.155],[0.956,0.13],[0.96,0.14],[0.964,0.12],[0.968,0.135],[0.972,0.115],[0.976,0.13],[0.98,0.11],[0.984,0.125],[0.988,0.105],[0.992,0.12],[0.996,0.1],
[1.0,0.115],[1.004,0.095],[1.008,0.11],[1.012,0.25],[1.014,0.3],[1.016,0.27],[1.018,0.2],
[1.02,0.065],[1.022,0.055],[1.024,0.06],[1.026,0.048],[1.028,0.052],[1.03,0.044],
[1.032,0.1],[1.036,0.12],[1.04,0.16],[1.044,0.11],[1.048,0.14],[1.052,0.095],[1.056,0.13],[1.06,0.105],
[1.064,0.12],[1.068,0.1],[1.072,0.14],[1.076,0.11],[1.08,0.13],[1.084,0.095],[1.088,0.12],[1.092,0.105],[1.096,0.14],[1.1,0.115],[1.104,0.13],[1.108,0.1],[1.112,0.125],[1.116,0.15],[1.12,0.11],[1.124,0.135],[1.128,0.12],[1.132,0.17],[1.136,0.125],[1.14,0.1],
[1.145,0.08],[1.148,0.07],[1.152,0.075],[1.156,0.062],[1.16,0.072],[1.164,0.065],[1.168,0.08],[1.172,0.068],[1.176,0.075],[1.18,0.085],[1.184,0.1],
[1.188,0.095],[1.192,0.11],[1.196,0.09],[1.2,0.105],[1.204,0.098],[1.208,0.11],[1.212,0.1],[1.216,0.115]
];
var beta2001More = [
[-0.197,1.05],[-0.193,1.25],[-0.189,1.1],[-0.185,1.3],[-0.181,1.05],[-0.177,0.68],[-0.173,0.64],[-0.169,0.72],[-0.165,0.68],[-0.161,0.8],[-0.157,0.9],[-0.153,1.1],[-0.149,0.95],[-0.145,1.0],[-0.141,1.1],[-0.137,1.2],[-0.133,1.4],[-0.129,1.25],[-0.125,1.4],[-0.121,1.1],[-0.117,0.95],[-0.113,0.7],[-0.109,0.45],[-0.105,0.3],[-0.101,0.28],[-0.097,0.3],[-0.093,0.25],[-0.089,0.28],[-0.085,0.24],[-0.081,0.26],[-0.077,0.2],[-0.073,0.22],[-0.069,0.17],[-0.059,0.52],[-0.055,0.6],[-0.051,0.62],[-0.047,0.75],[-0.043,0.9],[-0.039,0.95],[-0.035,1.0],[-0.031,0.9],[-0.027,1.1],[-0.023,1.0],[-0.019,1.2],[-0.015,1.3],[-0.011,0.06],[-0.007,0.052],[-0.003,0.068],
[0.001,0.075],[0.005,0.07],[0.009,0.08],[0.013,0.068],[0.017,0.072],[0.021,0.1],[0.025,0.12],[0.029,0.11],[0.033,0.16],[0.037,0.13],[0.041,0.075],[0.045,0.068],[0.052,0.06],[0.056,0.065],[0.06,0.06],[0.064,0.058],[0.068,0.055],[0.072,0.058],[0.076,0.052],[0.08,0.06],[0.084,0.055],[0.088,0.062],[0.092,0.054],[0.096,0.056],[0.1,0.05],[0.104,0.058],[0.108,0.052],[0.112,0.055],[0.116,0.05],[0.12,0.055],[0.124,0.12],[0.13,0.125],[0.136,0.11],[0.142,0.06],[0.146,0.048],[0.15,0.043],[0.154,0.047],[0.158,0.045],[0.162,0.042],[0.166,0.044],[0.17,0.04],[0.174,0.045],[0.178,0.041],[0.182,0.039],[0.186,0.043],[0.19,0.045],[0.194,0.042],[0.198,0.04],[0.202,0.045],[0.206,0.043],[0.21,0.042],[0.214,0.048],[0.218,0.046],[0.222,0.05],[0.226,0.053],[0.238,0.034],[0.242,0.035],[0.246,0.032],[0.25,0.033],[0.254,0.03],[0.258,0.032],[0.262,0.029],[0.266,0.03],[0.27,0.028],[0.274,0.031],[0.278,0.027],[0.282,0.029],[0.286,0.03],[0.29,0.028],[0.294,0.031],[0.298,0.027],[0.302,0.03],[0.306,0.031],[0.31,0.028],[0.314,0.03],[0.318,0.027],[0.322,0.03],[0.326,0.029],[0.33,0.026],[0.334,0.028],[0.338,0.025],[0.342,0.026],[0.346,0.026],[0.35,0.025],[0.354,0.027],[0.358,0.023],[0.362,0.026],[0.366,0.025],[0.37,0.022],[0.374,0.025],[0.378,0.024],[0.382,0.025],[0.386,0.023],[0.39,0.026],[0.394,0.024],[0.398,0.025],[0.402,0.024],[0.406,0.023],[0.41,0.026],[0.414,0.027],[0.418,0.028],[0.422,0.03],[0.426,0.027],[0.43,0.026],[0.434,0.024],[0.438,0.023],[0.442,0.025],[0.446,0.024],[0.45,0.026],[0.454,0.025],[0.458,0.024],[0.462,0.023],[0.466,0.027],[0.47,0.025],[0.474,0.026],[0.478,0.024],[0.482,0.028],[0.486,0.031],[0.49,0.033],[0.494,0.034],[0.498,0.035],[0.502,0.036],[0.506,0.037],[0.51,0.038],[0.514,0.04],[0.518,0.041],[0.522,0.042],[0.526,0.043],[0.53,0.044],[0.534,0.047],[0.538,0.052],[0.542,0.052],[0.546,0.055],[0.55,0.056],[0.554,0.058],[0.558,0.06],[0.562,0.062],[0.566,0.064],[0.57,0.066],[0.574,0.068],[0.578,0.07],[0.582,0.072],[0.586,0.075],[0.59,0.088],[0.594,0.082],[0.598,0.078],[0.602,0.08],[0.606,0.072],[0.61,0.075],[0.614,0.072],[0.618,0.075],[0.622,0.068],[0.626,0.07],[0.63,0.072],[0.634,0.068],[0.638,0.07],[0.642,0.068],[0.646,0.072],[0.65,0.07],[0.654,0.068],[0.658,0.072],[0.662,0.074],[0.666,0.072],[0.67,0.074],[0.674,0.076],[0.678,0.074],[0.682,0.075],[0.686,0.078],[0.69,0.076],[0.694,0.078],[0.698,0.075],[0.702,0.074],[0.706,0.076],[0.71,0.08],[0.714,0.078],[0.718,0.082],[0.722,0.08],[0.726,0.085],[0.73,0.095],[0.734,0.092],[0.738,0.09],[0.742,0.1],[0.746,0.09],[0.75,0.085],[0.754,0.085],[0.758,0.082],[0.762,0.08],[0.766,0.078],[0.77,0.082],[0.774,0.08],[0.778,0.083],[0.782,0.085],[0.786,0.087],[0.79,0.088],[0.794,0.09],[0.798,0.09],[0.802,0.095],[0.806,0.095],[0.81,0.1],[0.814,0.105],[0.818,0.115],[0.822,0.112],[0.826,0.118],[0.83,0.12],[0.834,0.125],[0.838,0.13],[0.842,0.13],[0.846,0.135],[0.85,0.125],[0.854,0.128],[0.858,0.13],[0.862,0.125],[0.866,0.12],[0.87,0.118],[0.874,0.12],[0.878,0.125],[0.882,0.13],[0.886,0.128],[0.89,0.13],[0.894,0.14],[0.898,0.135],[0.902,0.13],[0.906,0.14],[0.91,0.14],[0.914,0.135],[0.918,0.14],[0.922,0.14],[0.926,0.145],[0.93,0.14],[0.934,0.142],[0.938,0.138],[0.942,0.135],[0.946,0.13],[0.95,0.135],[0.954,0.14],[0.958,0.138],[0.962,0.13],[0.966,0.125],[0.97,0.12],[0.974,0.12],[0.978,0.115],[0.982,0.12],[0.986,0.115],[0.99,0.11],[0.994,0.112],[0.998,0.108],[1.002,0.105],[1.006,0.1],[1.01,0.105],[1.013,0.22],[1.017,0.24],[1.021,0.058],[1.025,0.052],[1.029,0.048],[1.034,0.11],[1.038,0.13],[1.042,0.12],[1.046,0.13],[1.05,0.12],[1.054,0.11],[1.058,0.12],[1.062,0.115],[1.066,0.125],[1.07,0.12],[1.074,0.13],[1.078,0.12],[1.082,0.115],[1.086,0.11],[1.09,0.12],[1.094,0.125],[1.098,0.12],[1.102,0.12],[1.106,0.11],[1.11,0.115],[1.114,0.125],[1.118,0.13],[1.122,0.12],[1.126,0.125],[1.13,0.14],[1.134,0.13],[1.138,0.115],[1.143,0.085],[1.147,0.075],[1.151,0.07],[1.155,0.068],[1.159,0.068],[1.163,0.07],[1.167,0.072],[1.171,0.075],[1.175,0.07],[1.179,0.078],[1.183,0.09],[1.187,0.085],[1.191,0.1],[1.195,0.095],[1.199,0.1],[1.203,0.1],[1.207,0.105],[1.211,0.11],[1.215,0.1],[1.219,0.105]
];

var series_data = [beta1998.concat(beta1998More), beta1999.concat(beta1999More), beta2001.concat(beta2001More)];

var chart = echarts.init(document.getElementById('main'), null, {renderer: 'canvas'});

var FONT = 'Liberation Sans';
var gridLeft = [111, 466, 821];
var gridWidth = [269, 268, 269];

function isDecade(v) {
    var l = Math.log(v) / Math.LN10;
    return Math.abs(l - Math.round(l)) < 1e-6;
}
function decadeLabel(v) {
    if (!isDecade(v)) return '';
    var e = Math.round(Math.log(v) / Math.LN10);
    return '{b|10}{s|' + (e < 0 ? '\u2212' + (-e) : e) + '}';
}

var grids = [], xAxes = [], yAxes = [], series = [];
for (var i = 0; i < 3; i++) {
    grids.push({left: gridLeft[i], top: 43, width: gridWidth[i], height: 325, outerBoundsMode: 'none'});
    // bottom + top x axes
    xAxes.push({
        gridIndex: i, type: 'value', min: xMin[i], max: xMax[i], position: 'bottom',
        axisLine: {show: true, onZero: false, lineStyle: {color: '#000', width: 1}},
        axisTick: {show: true, inside: true, length: 4, customValues: xTicks, lineStyle: {color: '#000'}},
        axisLabel: {customValues: xTicks, margin: 9, fontSize: 21, fontFamily: FONT, color: '#000',
            formatter: function (v) { return String(v); }},
        splitLine: {show: false},
        name: dateLabels[i], nameLocation: 'middle', nameGap: 34,
        nameTextStyle: {fontSize: 21, fontFamily: FONT, color: '#000'}
    });
    xAxes.push({
        gridIndex: i, type: 'value', min: xMin[i], max: xMax[i], position: 'top',
        axisLine: {show: true, onZero: false, lineStyle: {color: '#000', width: 1}},
        axisTick: {show: true, inside: true, length: 4, customValues: xTicks, lineStyle: {color: '#000'}},
        axisLabel: {show: false}, splitLine: {show: false}
    });
    // left + right log axes
    var yl = {
        gridIndex: i, type: 'log', logBase: 10, min: yMin, max: yMax, position: 'left',
        axisLine: {show: true, onZero: false, lineStyle: {color: '#000', width: 1}},
        axisTick: {show: true, inside: true, length: 4, lineStyle: {color: '#000'}},
        axisLabel: {
            margin: 46, align: 'left', formatter: decadeLabel,
            rich: {
                b: {fontSize: 20, fontFamily: FONT, color: '#000', lineHeight: 32, verticalAlign: 'middle'},
                s: {fontSize: 15, fontFamily: FONT, color: '#000', lineHeight: 32, verticalAlign: 'top'}
            }
        },
        splitLine: {show: false}
    };
    if (i === 0) {
        yl.name = '{b|\u03b2}{s|p}';
        yl.nameLocation = 'middle';
        yl.nameRotate = 90;
        yl.nameGap = 56;
        yl.nameTextStyle = {
            rich: {
                b: {fontSize: 30, fontFamily: FONT, color: '#000', lineHeight: 50, verticalAlign: 'top'},
                s: {fontSize: 20, fontFamily: FONT, color: '#000', lineHeight: 50, verticalAlign: 'bottom'}
            }
        };
    }
    yAxes.push(yl);
    yAxes.push({
        gridIndex: i, type: 'log', logBase: 10, min: yMin, max: yMax, position: 'right',
        axisLine: {show: true, onZero: false, lineStyle: {color: '#000', width: 1}},
        axisTick: {show: true, inside: true, length: 4, lineStyle: {color: '#000'}},
        axisLabel: {show: false}, splitLine: {show: false}
    });

    series.push({
        type: 'scatter', xAxisIndex: i * 2, yAxisIndex: i * 2,
        data: series_data[i], symbol: 'circle', symbolSize: 2.6,
        itemStyle: {color: '#000'}, silent: true, animation: false,
        markLine: {
            silent: true, symbol: ['none', 'none'], label: {show: false}, animation: false,
            data: [
                {xAxis: eventStart[i], lineStyle: {type: [12, 7], color: '#000', width: 1}},
                {xAxis: eventEnd[i], lineStyle: {type: [12, 7], color: i === 0 ? '#000' : '#666', width: 1}},
                [{coord: [thresholdFrom[i], threshold], lineStyle: {type: [1.5, 6.5], color: '#555', width: 1}},
                 {coord: [thresholdTo[i], threshold]}]
            ]
        }
    });
    // log minor ticks on both sides of the box
    series.push({
        type: 'custom', xAxisIndex: i * 2, yAxisIndex: i * 2, silent: true, animation: false,
        data: minorYTicks.map(function (v) { return [xMin[i], v]; }),
        renderItem: function (params, api) {
            var p = api.coord([api.value(0), api.value(1)]);
            var cs = params.coordSys;
            var y = Math.round(p[1]) + 0.5;
            return {
                type: 'group', children: [
                    {type: 'line', shape: {x1: cs.x, y1: y, x2: cs.x + 2.5, y2: y}, style: {stroke: '#000', lineWidth: 1}},
                    {type: 'line', shape: {x1: cs.x + cs.width - 2.5, y1: y, x2: cs.x + cs.width, y2: y}, style: {stroke: '#000', lineWidth: 1}}
                ]
            };
        }
    });
}

chart.setOption({
    backgroundColor: '#fff',
    animation: false,
    grid: grids,
    xAxis: xAxes,
    yAxis: yAxes,
    series: series,
    graphic: [{
        type: 'text', x: 558, y: 20,
        style: {text: 'Fig. 2.', font: '27px "Liberation Serif"', fill: '#000', textAlign: 'center', textVerticalAlign: 'middle'}
    }]
});
</script>
</body>
</html>
